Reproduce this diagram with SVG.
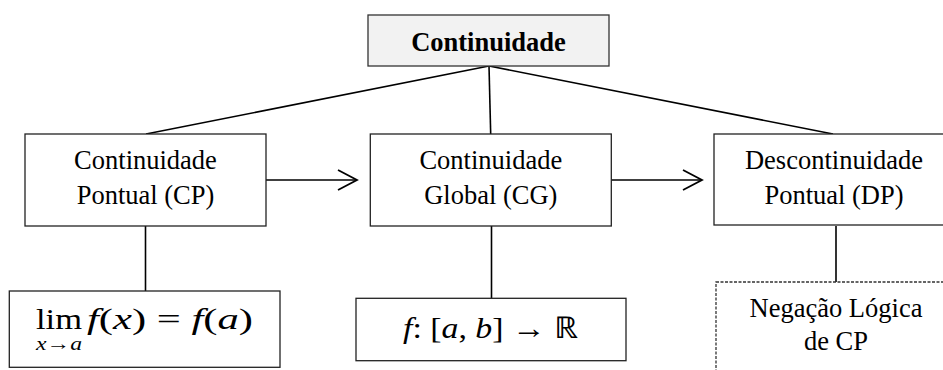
<svg xmlns="http://www.w3.org/2000/svg" width="943" height="370" viewBox="0 0 943 370">
<style>
.box{fill:#fff;stroke:#222;stroke-width:1.3}
.t{font-family:'Liberation Serif','Times New Roman',Times,serif;font-size:26.5px;fill:#000;text-anchor:middle}
.m{font-family:'Liberation Serif','Times New Roman',Times,serif;fill:#000}
.i{font-style:italic}
.c{stroke:#000;stroke-width:1.6;fill:none}
</style>
<defs>
<marker id="arr" markerUnits="userSpaceOnUse" markerWidth="24" markerHeight="24" refX="19" refY="10" orient="auto" viewBox="-2 -2 24 24">
<path d="M0,0 L19,10 L0,20" fill="none" stroke="#000" stroke-width="1.8"/>
</marker>
</defs>
<g id="connectors">
<line class="c" x1="489" y1="66" x2="146" y2="134"/>
<line class="c" x1="489" y1="66" x2="490.7" y2="134"/>
<line class="c" x1="489" y1="66" x2="833" y2="134"/>
<line class="c" x1="266" y1="180" x2="357" y2="180" marker-end="url(#arr)"/>
<line class="c" x1="611" y1="180" x2="702" y2="180" marker-end="url(#arr)"/>
<line class="c" x1="145.5" y1="226" x2="145.5" y2="291"/>
<line class="c" x1="491.5" y1="226" x2="491.5" y2="298"/>
<line class="c" x1="836" y1="226" x2="836" y2="282"/>
</g>
<g id="continuidade">
<rect x="368" y="15" width="241" height="51" fill="#f2f2f2" stroke="#333" stroke-width="1.3"/>
<text class="t" x="488.5" y="50.5" font-weight="bold">Continuidade</text>
</g>
<g id="cp">
<rect class="box" x="25" y="134" width="241" height="92"/>
<text class="t" x="145.5" y="169">Continuidade</text>
<text class="t" x="145.5" y="204">Pontual (CP)</text>
</g>
<g id="cg">
<rect class="box" x="370.3" y="134" width="241" height="92"/>
<text class="t" x="490.8" y="169">Continuidade</text>
<text class="t" x="490.8" y="204">Global (CG)</text>
</g>
<g id="dp">
<rect class="box" x="714" y="134" width="245" height="91"/>
<text class="t" x="834" y="169">Descontinuidade</text>
<text class="t" x="834" y="204">Pontual (DP)</text>
</g>
<g id="lim">
<rect class="box" x="9.3" y="291" width="270.7" height="76.3"/>
<text class="m" x="36" y="329" font-size="30" textLength="46" lengthAdjust="spacingAndGlyphs">lim</text>
<text class="m" x="87" y="329" font-size="30" textLength="166" lengthAdjust="spacingAndGlyphs"><tspan class="i">f</tspan>(<tspan class="i">x</tspan>) = <tspan class="i">f</tspan>(<tspan class="i">a</tspan>)</text>
<text class="m" x="36" y="350" font-size="19" textLength="46" lengthAdjust="spacingAndGlyphs"><tspan class="i">x</tspan>→<tspan class="i">a</tspan></text>
</g>
<g id="fab">
<rect class="box" x="356" y="298.3" width="270" height="62.4"/>
<text class="m" x="403" y="338" font-size="30" textLength="175" lengthAdjust="spacingAndGlyphs"><tspan class="i">f</tspan>: [<tspan class="i">a</tspan>, <tspan class="i">b</tspan>] → ℝ</text>
</g>
<g id="negacao">
<rect x="716" y="282" width="240" height="100" fill="#fff" stroke="#333" stroke-width="1.3" stroke-dasharray="3,1.5"/>
<text class="t" x="836" y="317">Negação Lógica</text>
<text class="t" x="836" y="350">de CP</text>
</g>
</svg>
